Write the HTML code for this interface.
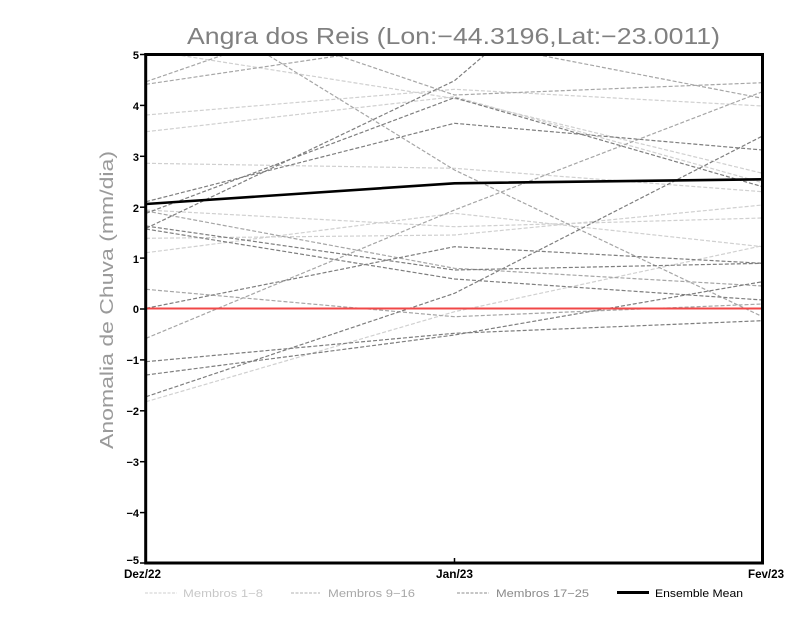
<!DOCTYPE html>
<html>
<head>
<meta charset="utf-8">
<style>
html,body{margin:0;padding:0;background:#fff;}
svg{display:block;}
</style>
</head>
<body>
<svg width="800" height="618" viewBox="0 0 800 618" xmlns="http://www.w3.org/2000/svg">
<defs>
<clipPath id="pc"><rect x="146" y="54" width="617" height="509"/></clipPath>
</defs>
<rect width="800" height="618" fill="#fff"/>

<!-- title -->
<text x="187" y="44" font-family="Liberation Sans, sans-serif" font-size="23" fill="#808080" textLength="533" lengthAdjust="spacingAndGlyphs">Angra dos Reis (Lon:−44.3196,Lat:−23.0011)</text>

<!-- y axis label -->
<text transform="translate(113,300) rotate(-90)" text-anchor="middle" font-family="Liberation Sans, sans-serif" font-size="18" fill="#9a9a9a" textLength="298" lengthAdjust="spacingAndGlyphs">Anomalia de Chuva (mm/dia)</text>

<g clip-path="url(#pc)" fill="none" stroke-width="1.2" stroke-dasharray="4 2">
<!-- light members -->
<g stroke="#d0d0d0">
<polyline points="146,50 454.5,98.5 762.5,173.3"/>
<polyline points="146,115 454.5,89.3 762.5,106"/>
<polyline points="146,131.7 454.5,96.7 762.5,182.7"/>
<polyline points="146,163.3 454.5,168.3 762.5,191.7"/>
<polyline points="146,210 454.5,226.7 762.5,218"/>
<polyline points="146,238.3 454.5,235 762.5,205"/>
<polyline points="146,252.7 454.5,213.3 762.5,246.7"/>
<polyline points="146,401.7 454.5,311.7 762.5,245.7"/>
</g>
<!-- mid members -->
<g stroke="#a6a6a6">
<polyline points="146,81.7 454.5,-25 762.5,-20"/>
<polyline points="146,84.3 454.5,38.7 762.5,98.3"/>
<polyline points="146,-20 454.5,170 762.5,316.7"/>
<polyline points="146,-9.5 454.5,95 762.5,82.7"/>
<polyline points="146,338.3 454.5,210 762.5,91.7"/>
<polyline points="146,211 454.5,268.3 762.5,286"/>
<polyline points="146,289.3 454.5,316.7 762.5,304"/>
</g>
<!-- dark members -->
<g stroke="#7e7e7e">
<polyline points="146,201.7 454.5,123.3 762.5,150"/>
<polyline points="146,213.3 454.5,97.7 762.5,186.7"/>
<polyline points="146,228.3 454.5,80.7 762.5,-183"/>
<polyline points="146,226 454.5,270 762.5,263.3"/>
<polyline points="146,308.3 454.5,246.7 762.5,263.3"/>
<polyline points="146,361.7 454.5,333.3 762.5,320.7"/>
<polyline points="146,375 454.5,335 762.5,281.7"/>
<polyline points="146,396.7 454.5,293.3 762.5,136"/>
<polyline points="146,229 454.5,279 762.5,300"/>
</g>
</g>

<!-- zero line -->
<line x1="146" y1="308.5" x2="762" y2="308.5" stroke="#f04848" stroke-width="2"/>

<!-- ensemble mean -->
<polyline points="146,204 454.5,183.3 762.5,179.3" fill="none" stroke="#000" stroke-width="2.6"/>

<!-- frame -->
<rect x="145.7" y="54.5" width="616.8" height="508.5" fill="none" stroke="#000" stroke-width="3"/>

<!-- y ticks -->
<g stroke="#000" stroke-width="1.5">
<line x1="140" y1="54.5" x2="145" y2="54.5"/>
<line x1="140" y1="105.4" x2="145" y2="105.4"/>
<line x1="140" y1="156.3" x2="145" y2="156.3"/>
<line x1="140" y1="207.2" x2="145" y2="207.2"/>
<line x1="140" y1="258.1" x2="145" y2="258.1"/>
<line x1="140" y1="309" x2="145" y2="309"/>
<line x1="140" y1="359.9" x2="145" y2="359.9"/>
<line x1="140" y1="410.8" x2="145" y2="410.8"/>
<line x1="140" y1="461.7" x2="145" y2="461.7"/>
<line x1="140" y1="512.6" x2="145" y2="512.6"/>
<line x1="140" y1="563" x2="145" y2="563"/>
<line x1="454.5" y1="558" x2="454.5" y2="563"/>
</g>
<g font-family="Liberation Sans, sans-serif" font-size="11" font-weight="bold" fill="#000" text-anchor="end">
<text x="139" y="59">5</text>
<text x="139" y="110">4</text>
<text x="139" y="161">3</text>
<text x="139" y="212">2</text>
<text x="139" y="263">1</text>
<text x="139" y="313">0</text>
<text x="139" y="364">−1</text>
<text x="139" y="415">−2</text>
<text x="139" y="466">−3</text>
<text x="139" y="517">−4</text>
<text x="139" y="564">−5</text>
</g>

<!-- x tick labels -->
<g font-family="Liberation Sans, sans-serif" font-size="12" font-weight="bold" fill="#000">
<text x="124" y="578" textLength="37" lengthAdjust="spacingAndGlyphs">Dez/22</text>
<text x="436" y="578" textLength="37" lengthAdjust="spacingAndGlyphs">Jan/23</text>
<text x="748" y="578" textLength="36" lengthAdjust="spacingAndGlyphs">Fev/23</text>
</g>

<!-- legend -->
<g stroke-width="1" stroke-dasharray="3 1.5">
<line x1="145" y1="593" x2="177" y2="593" stroke="#cfcfcf"/>
<line x1="291" y1="593" x2="320" y2="593" stroke="#b0b0b0"/>
<line x1="457" y1="593" x2="489" y2="593" stroke="#8e8e8e"/>
</g>
<line x1="617" y1="592.5" x2="649" y2="592.5" stroke="#000" stroke-width="3"/>
<g font-family="Liberation Sans, sans-serif" font-size="11">
<text x="183" y="597" fill="#c8c8c8" textLength="80" lengthAdjust="spacingAndGlyphs">Membros 1−8</text>
<text x="328" y="597" fill="#a8a8a8" textLength="87" lengthAdjust="spacingAndGlyphs">Membros 9−16</text>
<text x="496" y="597" fill="#8a8a8a" textLength="93" lengthAdjust="spacingAndGlyphs">Membros 17−25</text>
<text x="655" y="597" fill="#000" textLength="88" lengthAdjust="spacingAndGlyphs">Ensemble Mean</text>
</g>
</svg>
</body>
</html>
